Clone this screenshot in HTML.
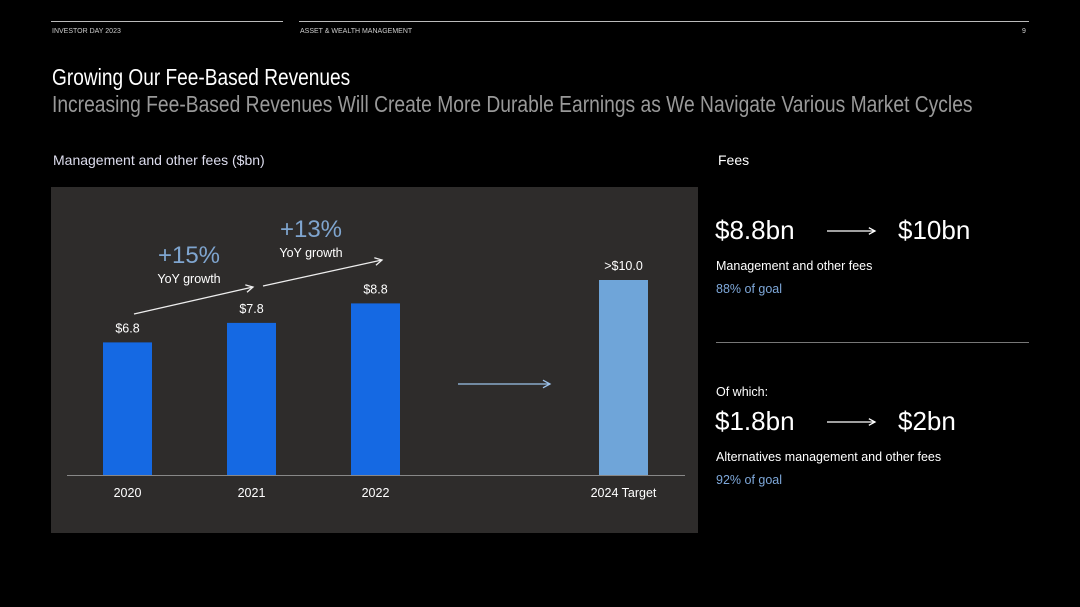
<!DOCTYPE html>
<html><head><meta charset="utf-8"><style>
body{margin:0;width:1080px;height:607px;background:#000;font-family:"Liberation Sans",sans-serif;color:#fff;position:relative;overflow:hidden}
.a{position:absolute;white-space:nowrap}
.hr{position:absolute;height:1px;background:#bbb}
.t{transform-origin:0 0;transform:scaleX(.82)}
</style></head><body>
<div class="hr" style="left:51px;top:21px;width:232px"></div>
<div class="hr" style="left:299px;top:21px;width:730px"></div>
<div class="a" style="left:52px;top:28px;font-size:7px;color:#ccc">INVESTOR DAY 2023</div>
<div class="a" style="left:300px;top:28px;font-size:7px;color:#ccc">ASSET &amp; WEALTH MANAGEMENT</div>
<div class="a" style="left:1022px;top:28px;font-size:7px;color:#ccc">9</div>
<div class="a t" style="left:52px;top:64px;font-size:23px;color:#fff;transform:scaleX(.83)">Growing Our Fee-Based Revenues</div>
<div class="a t" style="left:52px;top:91px;font-size:23px;color:#999;transform:scaleX(.837)">Increasing Fee-Based Revenues Will Create More Durable Earnings as We Navigate Various Market Cycles</div>
<div class="a" style="left:53px;top:152px;font-size:14px;color:#dde">Management and other fees ($bn)</div>
<svg class="a" style="left:0;top:0" width="1080" height="607" id="c"></svg>
<div class="a" style="left:718px;top:152px;font-size:14px">Fees</div>
<div class="a" style="left:715px;top:215px;font-size:26px">$8.8bn</div>
<div class="a" style="left:898px;top:215px;font-size:26px">$10bn</div>
<div class="a" style="left:716px;top:259px;font-size:12.5px">Management and other fees</div>
<div class="a" style="left:716px;top:282px;font-size:12.5px;color:#7ea8da">88% of goal</div>
<div class="hr" style="left:716px;top:342px;width:313px;background:#777"></div>
<div class="a" style="left:716px;top:385px;font-size:12.5px">Of which:</div>
<div class="a" style="left:715px;top:406px;font-size:26px">$1.8bn</div>
<div class="a" style="left:898px;top:406px;font-size:26px">$2bn</div>
<div class="a" style="left:716px;top:450px;font-size:12.5px">Alternatives management and other fees</div>
<div class="a" style="left:716px;top:473px;font-size:12.5px;color:#7ea8da">92% of goal</div>
<script>
const categories=["2020","2021","2022","2024 Target"];
const values=[6.8,7.8,8.8,10.0];
const valueLabels=["$6.8","$7.8","$8.8",">$10.0"];
const growthLabels=["+15%","+13%"];
const svg=document.getElementById('c');const NS="http://www.w3.org/2000/svg";
function mk(t,a,p){const e=document.createElementNS(NS,t);for(const k in a)e.setAttribute(k,a[k]);(p||svg).appendChild(e);return e;}
const base=475,k=19.5;
const y=v=>base-v*k;
const xs=[103,227,351,599];const bw=49;
const x=i=>xs[i];
let r=mk('rect',{x:51,y:187,width:647,height:346,fill:'#2e2c2b'});


let l=mk('line',{x1:67,y1:475.5,x2:685,y2:475.5,stroke:'#888','stroke-width':1});


categories.forEach((c,i)=>{
 const b=mk('rect',{x:x(i),y:y(values[i]),width:bw,height:base-y(values[i]),fill:i==3?'#6fa5d9':'#1569e3'});
 
 
 const v=mk('text',{x:x(i)+bw/2,y:y(values[i])-10,'text-anchor':'middle','font-size':12.5,fill:'#fff'});v.textContent=valueLabels[i];
 
 
 const t=mk('text',{x:x(i)+bw/2,y:497,'text-anchor':'middle','font-size':12.5,fill:'#fff'});t.textContent=c;
 
 
});
function arrow(x1,y1,x2,y2,col,name,s){
 const g=mk('g',{stroke:col,'stroke-width':1.3,fill:'none'});
 
 
 mk('line',{x1,y1,x2,y2},g);
 const a=Math.atan2(y2-y1,x2-x1);s=s||8;
 mk('polyline',{points:`${x2-s*Math.cos(a-0.5)},${y2-s*Math.sin(a-0.5)} ${x2},${y2} ${x2-s*Math.cos(a+0.5)},${y2-s*Math.sin(a+0.5)}`},g);
}
arrow(134,314,253,287,'#eee','growth-arrow-1');
arrow(263,286,382,260,'#eee','growth-arrow-2');
arrow(458,384,550,384,'#9cc1ea','target-arrow');
arrow(827,231,875,231,'#fff','fees-arrow',7);
arrow(827,422,875,422,'#fff','alt-arrow',7);
[[189,263,growthLabels[0],'growth-label-1'],[311,237,growthLabels[1],'growth-label-2']].forEach(([gx,gy,txt,n])=>{
 const t=mk('text',{x:gx,y:gy,'text-anchor':'middle','font-size':24,fill:'#7fa5cf'});t.textContent=txt;
 
 
 const s=mk('text',{x:gx,y:gy+20,'text-anchor':'middle','font-size':12.5,fill:'#fff'});s.textContent='YoY growth';
 
 
});
</script>
</body></html>
